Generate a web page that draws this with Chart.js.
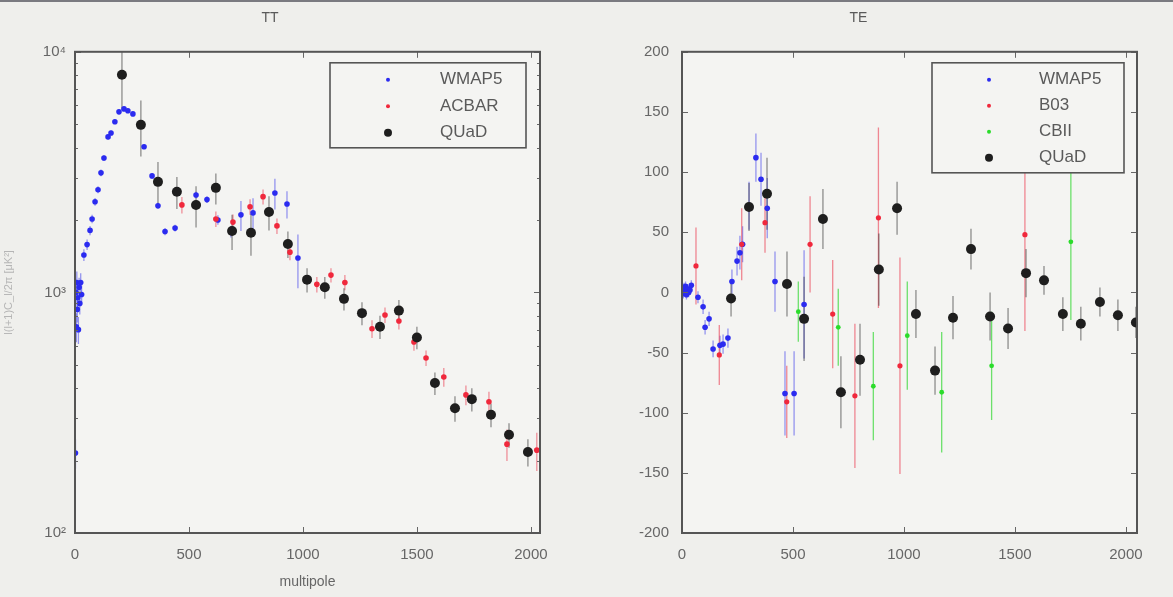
<!DOCTYPE html>
<html lang="en">
<head>
    <meta charset="UTF-8">
    <title>TT / TE</title>
    <script src="https://cdn.jsdelivr.net/npm/chart.js"></script>
    <style>
        body {
            margin: 0;
            background: #efefec;
            overflow: hidden;
        }

        #wrap {
            position: relative;
            width: 1173px;
            height: 597px;
        }

        #topline {
            position: absolute;
            left: 0;
            top: 0;
            width: 100%;
            height: 2px;
            background: #7a7a80;
            z-index: 2;
        }

        canvas {
            position: absolute;
            top: 0;
        }

        #ttChart { left: 0; }
        #teChart { left: 580px; }
    </style>
</head>
<body>
<div id="wrap">
    <div id="topline"></div>
    <canvas id="ttChart" width="580" height="597"></canvas>
    <canvas id="teChart" width="593" height="597"></canvas>
</div>

<script>
    // ---- TT ----
    const ttWmapL = [2, 4, 6, 8, 10, 12, 15, 18, 21, 25, 29, 39, 53, 66, 75, 88, 101, 114, 127, 145, 158, 175, 193, 215, 232, 254, 303, 338, 364, 395, 439, 531, 579, 627, 684, 728, 781, 877, 930, 978];
    const ttWmapV = [215, 1000, 720, 1100, 850, 950, 700, 1050, 900, 1100, 980, 1430, 1580, 1810, 2020, 2380, 2670, 3140, 3620, 4430, 4600, 5120, 5630, 5790, 5690, 5520, 4030, 3050, 2290, 1790, 1850, 2540, 2430, 2000, 1790, 2100, 2140, 2590, 2330, 1390];
    const ttWmapE = [30, 120, 100, 120, 100, 100, 90, 100, 90, 100, 90, 80, 80, 80, 80, 90, 90, 100, 100, 110, 110, 110, 110, 110, 110, 100, 90, 80, 70, 60, 60, 80, 80, 90, 100, 300, 320, 380, 300, 350];

    const ttAcbarL = [469, 618, 693, 768, 825, 886, 943, 1061, 1123, 1184, 1303, 1360, 1421, 1487, 1540, 1618, 1715, 1816, 1895, 2026];
    const ttAcbarV = [2310, 2020, 1960, 2270, 2500, 1890, 1470, 1080, 1180, 1100, 706, 806, 761, 622, 534, 445, 375, 351, 234, 221];
    const ttAcbarE = [180, 150, 150, 170, 180, 140, 110, 80, 80, 80, 60, 60, 60, 50, 40, 40, 35, 35, 35, 40];

    const ttQuadL = [206, 289, 364, 447, 531, 618, 689, 772, 851, 934, 1018, 1096, 1180, 1259, 1338, 1421, 1500, 1579, 1667, 1741, 1825, 1904, 1987];
    const ttQuadV = [8030, 4970, 2880, 2620, 2310, 2720, 1800, 1770, 2160, 1590, 1130, 1050, 940, 820, 720, 840, 650, 420, 330, 360, 310, 256, 217];
    const ttQuadE = [2300, 1300, 600, 400, 450, 400, 300, 350, 350, 200, 130, 110, 100, 90, 80, 90, 70, 45, 40, 40, 35, 30, 28];

    // ---- TE ----
    const teWmapL = [3, 6, 9, 12, 16, 20, 25, 30, 36, 42, 72, 95, 104, 122, 140, 171, 185, 207, 225, 248, 261, 273, 302, 333, 356, 384, 419, 464, 505, 550];
    const teWmapV = [2, -1, 4, 1, 5, -2, 3, 0, 2, 6, -4, -12, -29, -22, -47, -44, -43, -38, 9, 26, 33, 40, 72, 112, 94, 70, 9, -84, -84, -10];
    const teWmapE = [4, 4, 4, 4, 4, 4, 4, 4, 4, 4, 5, 6, 6, 6, 7, 8, 8, 8, 10, 12, 14, 15, 20, 20, 22, 25, 25, 35, 35, 45];

    const teB03L = [63, 168, 269, 374, 472, 577, 679, 779, 885, 982, 1545];
    const teB03V = [22, -52, 40, 58, -91, 40, -18, -86, 62, -61, 48];
    const teB03E = [32, 25, 30, 25, 30, 40, 45, 60, 75, 90, 80];

    const teCbiL = [524, 704, 862, 1015, 1170, 1395, 1752];
    const teCbiV = [-16, -29, -78, -36, -83, -61, 42];
    const teCbiE = [25, 32, 45, 45, 50, 45, 65];

    const teQuadL = [221, 302, 383, 473, 550, 635, 716, 802, 887, 969, 1054, 1140, 1221, 1302, 1388, 1469, 1550, 1631, 1716, 1797, 1883, 1964, 2045];
    const teQuadV = [-5, 71, 82, 7, -22, 61, -83, -56, 19, 70, -18, -65, -21, 36, -20, -30, 16, 10, -18, -26, -8, -19, -25];
    const teQuadE = [15, 20, 30, 27, 35, 25, 30, 30, 30, 22, 20, 20, 18, 17, 20, 17, 20, 12, 14, 14, 12, 13, 13];

    // ticks
    const xTicks = [0, 500, 1000, 1500, 2000];
    const ttTicks = [100, 1000, 10000];
    const ttTickLabels = ['10²', '10³', '10⁴'];
    const ttMinor = [200, 300, 400, 500, 600, 700, 800, 900, 2000, 3000, 4000, 5000, 6000, 7000, 8000, 9000];
    const teTicks = [-200, -150, -100, -50, 0, 50, 100, 150, 200];

    const FONT = "'Liberation Sans', Arial, sans-serif";
    const INK = '#5a5a5a';

    function pts(ls, vs) {
        return ls.map((l, i) => ({ x: l, y: vs[i] }));
    }

    // 배경, 에러바, 테두리, 범례
    const panelPlugin = {
        id: 'panel',
        beforeDraw(chart) {
            const { ctx, chartArea: a } = chart;
            ctx.save();
            ctx.fillStyle = '#f4f4f2';
            ctx.fillRect(a.left, a.top, a.width, a.height);
            ctx.restore();
        },
        beforeDatasetsDraw(chart) {
            const { ctx, chartArea: a, scales: { x, y } } = chart;
            ctx.save();
            ctx.beginPath();
            ctx.rect(a.left, a.top, a.width, a.height);
            ctx.clip();
            chart.data.datasets.forEach(ds => {
                if (!ds.errors) return;
                ctx.strokeStyle = ds.barColor;
                ctx.lineWidth = 1.3;
                ds.data.forEach((p, j) => {
                    const e = ds.errors[j];
                    const lo = Math.max(p.y - e, y.min);
                    const px = x.getPixelForValue(p.x);
                    ctx.beginPath();
                    ctx.moveTo(px, y.getPixelForValue(p.y + e));
                    ctx.lineTo(px, y.getPixelForValue(lo));
                    ctx.stroke();
                });
            });
            ctx.restore();
        },
        afterDraw(chart) {
            const { ctx, chartArea: a, scales: { x, y } } = chart;
            const opts = chart.options.plugins.panel;
            ctx.save();

            // inward ticks
            ctx.strokeStyle = '#666';
            ctx.lineWidth = 1;
            xTicks.forEach(v => {
                const px = Math.round(x.getPixelForValue(v)) + 0.5;
                ctx.beginPath();
                ctx.moveTo(px, a.bottom); ctx.lineTo(px, a.bottom - 6);
                ctx.moveTo(px, a.top); ctx.lineTo(px, a.top + 6);
                ctx.stroke();
            });
            y.ticks.forEach(t => {
                const py = Math.round(y.getPixelForValue(t.value)) + 0.5;
                ctx.beginPath();
                ctx.moveTo(a.left, py); ctx.lineTo(a.left + 6, py);
                ctx.moveTo(a.right, py); ctx.lineTo(a.right - 6, py);
                ctx.stroke();
            });
            (opts.minor || []).forEach(v => {
                const py = Math.round(y.getPixelForValue(v)) + 0.5;
                ctx.beginPath();
                ctx.moveTo(a.left, py); ctx.lineTo(a.left + 3, py);
                ctx.moveTo(a.right, py); ctx.lineTo(a.right - 3, py);
                ctx.stroke();
            });

            // frame
            ctx.strokeStyle = '#555';
            ctx.lineWidth = 2;
            ctx.strokeRect(a.left, a.top, a.width, a.height);

            // legend box
            const lg = opts.legend;
            const bx = a.right - lg.right - lg.width;
            const by = a.top + lg.top;
            ctx.fillStyle = '#f4f4f2';
            ctx.fillRect(bx, by, lg.width, lg.height);
            ctx.strokeStyle = '#555';
            ctx.lineWidth = 1.6;
            ctx.strokeRect(bx, by, lg.width, lg.height);
            ctx.font = '17px ' + FONT;
            ctx.textBaseline = 'middle';
            chart.data.datasets.forEach((ds, i) => {
                const ry = by + lg.row0 + i * lg.gap;
                ctx.fillStyle = ds.pointBackgroundColor;
                ctx.beginPath();
                ctx.arc(bx + lg.marker, ry, ds.legendRadius, 0, Math.PI * 2);
                ctx.fill();
                ctx.fillStyle = INK;
                ctx.fillText(ds.label, bx + lg.text, ry);
            });
            ctx.restore();
        }
    };

    function makeDataset(label, ls, vs, es, color, barColor, radius, legendRadius, order) {
        return {
            label: label,
            data: pts(ls, vs),
            errors: es,
            barColor: barColor,
            pointBackgroundColor: color,
            pointBorderWidth: 0,
            pointRadius: radius,
            legendRadius: legendRadius,
            showLine: false,
            order: order
        };
    }

    const tickFont = { size: 15, family: FONT };
    const plain = v => String(v);

    new Chart(document.getElementById('ttChart'), {
        type: 'scatter',
        data: {
            datasets: [
                makeDataset('WMAP5', ttWmapL, ttWmapV, ttWmapE, '#2b2bf0', 'rgba(70,70,235,0.55)', 2.8, 2, 2),
                makeDataset('ACBAR', ttAcbarL, ttAcbarV, ttAcbarE, '#f0283c', 'rgba(235,60,80,0.55)', 2.8, 2, 1),
                makeDataset('QUaD', ttQuadL, ttQuadV, ttQuadE, '#1e1e1e', 'rgba(40,40,40,0.5)', 5, 4, 0)
            ]
        },
        options: {
            responsive: false,
            animation: false,
            layout: { padding: { left: 0, right: 40, top: 0, bottom: 0 } },
            scales: {
                x: {
                    type: 'linear',
                    min: 0,
                    max: 2040,
                    afterBuildTicks: s => { s.ticks = xTicks.map(v => ({ value: v })); },
                    afterFit: s => { s.height = 64; },
                    grid: { display: false, drawTicks: false },
                    border: { display: false },
                    ticks: { color: '#666', font: tickFont, padding: 13, maxRotation: 0, callback: plain },
                    title: { display: true, text: 'multipole', color: '#666', font: { size: 14, family: FONT }, padding: { top: 0, bottom: 6 } }
                },
                y: {
                    type: 'logarithmic',
                    min: 100,
                    max: 10000,
                    afterBuildTicks: s => { s.ticks = ttTicks.map(v => ({ value: v })); },
                    afterFit: s => { s.width = 75; },
                    grid: { display: false, drawTicks: false },
                    border: { display: false },
                    ticks: {
                        color: '#666',
                        font: tickFont,
                        padding: 9,
                        callback: v => ttTickLabels[ttTicks.indexOf(v)]
                    },
                    title: { display: true, text: 'l(l+1)C_l/2π [μK²]', color: '#b5b5b5', font: { size: 11, family: FONT }, padding: { top: 2, bottom: 0 } }
                }
            },
            plugins: {
                legend: { display: false },
                tooltip: { enabled: false },
                title: {
                    display: true,
                    text: 'TT',
                    color: INK,
                    font: { size: 14, family: FONT, weight: 'normal' },
                    padding: { top: 10, bottom: 25 }
                },
                panel: {
                    minor: ttMinor,
                    legend: { right: 14, top: 11, width: 196, height: 85, row0: 17, gap: 26.5, marker: 58, text: 110 }
                }
            }
        },
        plugins: [panelPlugin]
    });

    new Chart(document.getElementById('teChart'), {
        type: 'scatter',
        data: {
            datasets: [
                makeDataset('WMAP5', teWmapL, teWmapV, teWmapE, '#2b2bf0', 'rgba(70,70,235,0.55)', 2.8, 2, 3),
                makeDataset('B03', teB03L, teB03V, teB03E, '#f0283c', 'rgba(235,60,80,0.6)', 2.6, 2, 2),
                makeDataset('CBII', teCbiL, teCbiV, teCbiE, '#2bdc2b', 'rgba(50,215,50,0.7)', 2.4, 2, 1),
                makeDataset('QUaD', teQuadL, teQuadV, teQuadE, '#1e1e1e', 'rgba(40,40,40,0.5)', 5, 4, 0)
            ]
        },
        options: {
            responsive: false,
            animation: false,
            layout: { padding: { left: 0, right: 36, top: 0, bottom: 0 } },
            scales: {
                x: {
                    type: 'linear',
                    min: 0,
                    max: 2050,
                    afterBuildTicks: s => { s.ticks = xTicks.map(v => ({ value: v })); },
                    afterFit: s => { s.height = 64; },
                    grid: { display: false, drawTicks: false },
                    border: { display: false },
                    ticks: { color: '#666', font: tickFont, padding: 13, maxRotation: 0, callback: plain }
                },
                y: {
                    type: 'linear',
                    min: -200,
                    max: 200,
                    afterBuildTicks: s => { s.ticks = teTicks.map(v => ({ value: v })); },
                    afterFit: s => { s.width = 102; },
                    grid: { display: false, drawTicks: false },
                    border: { display: false },
                    ticks: { color: '#666', font: tickFont, padding: 13, callback: plain }
                }
            },
            plugins: {
                legend: { display: false },
                tooltip: { enabled: false },
                title: {
                    display: true,
                    text: 'TE',
                    color: INK,
                    font: { size: 14, family: FONT, weight: 'normal' },
                    padding: { top: 10, bottom: 25 }
                },
                panel: {
                    legend: { right: 13, top: 11, width: 192, height: 110, row0: 17, gap: 26, marker: 57, text: 107 }
                }
            }
        },
        plugins: [panelPlugin]
    });
</script>
</body>
</html>
